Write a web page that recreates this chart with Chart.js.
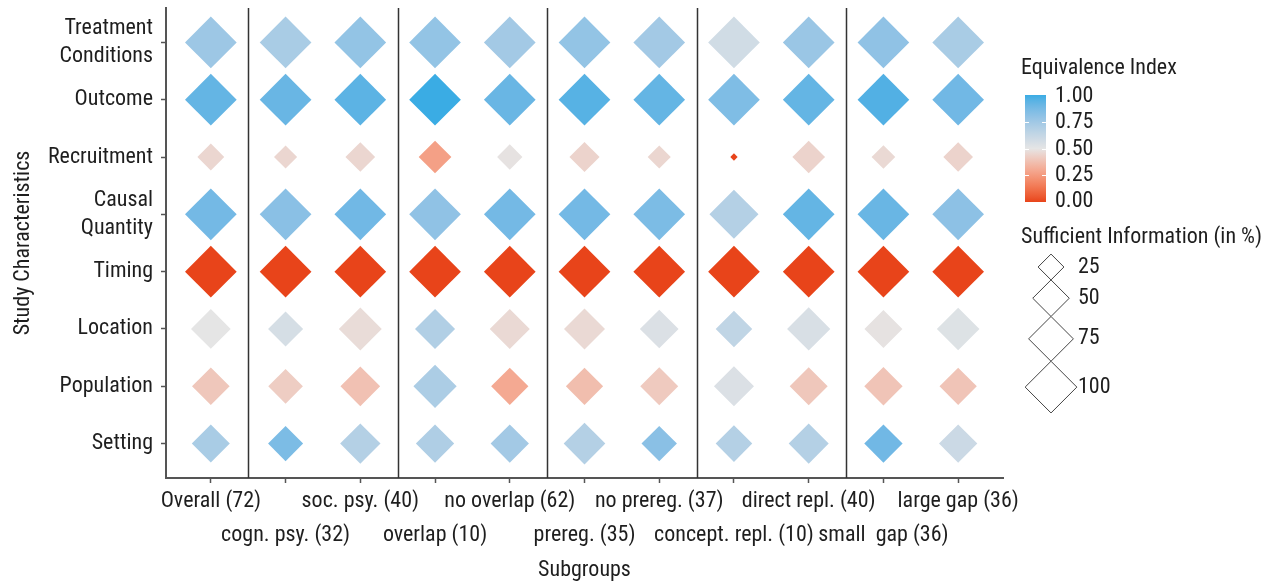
<!DOCTYPE html>
<html>
<head>
<meta charset="utf-8">
<script src="https://cdn.jsdelivr.net/npm/chart.js@4.4.1/dist/chart.umd.min.js"></script>
<style>
  html, body { margin: 0; padding: 0; background: #fff; }
  canvas { display: block; }
</style>
</head>
<body>
<canvas id="chart" width="1278" height="584"></canvas>
<script>
// subgroups along x, study characteristics along y
const subgroups = ['Overall (72)', 'cogn. psy. (32)', 'soc. psy. (40)', 'overlap (10)', 'no overlap (62)',
  'prereg. (35)', 'no prereg. (37)', 'concept. repl. (10)', 'direct repl. (40)', 'small  gap (36)', 'large gap (36)'];
const groupSizes = [1, 2, 2, 2, 2, 2];
const characteristics = [['Treatment', 'Conditions'], 'Outcome', 'Recruitment', ['Causal', 'Quantity'],
  'Timing', 'Location', 'Population', 'Setting'];

// equivalence index (colour), one row per characteristic
const equivalenceIndex = [
  [0.76, 0.72, 0.79, 0.79, 0.74, 0.79, 0.74, 0.58, 0.77, 0.80, 0.72],
  [0.92, 0.91, 0.94, 1.00, 0.91, 0.95, 0.92, 0.85, 0.92, 0.96, 0.89],
  [0.45, 0.45, 0.45, 0.27, 0.49, 0.44, 0.45, 0.00, 0.44, 0.46, 0.44],
  [0.88, 0.82, 0.89, 0.80, 0.88, 0.88, 0.86, 0.68, 0.92, 0.91, 0.81],
  [0.00, 0.00, 0.00, 0.00, 0.00, 0.00, 0.00, 0.00, 0.00, 0.00, 0.00],
  [0.50, 0.56, 0.47, 0.69, 0.46, 0.46, 0.54, 0.64, 0.55, 0.49, 0.53],
  [0.40, 0.42, 0.38, 0.71, 0.30, 0.37, 0.41, 0.54, 0.40, 0.39, 0.39],
  [0.72, 0.86, 0.68, 0.70, 0.74, 0.68, 0.82, 0.68, 0.68, 0.89, 0.60]
];
// sufficient information in % (size)
const sufficientInfo = [
  [100, 100, 100, 100, 100, 100, 100, 100, 100, 100, 100],
  [100, 100, 100, 100, 100, 100, 100, 100, 100, 100, 100],
  [27, 20, 33, 40, 24, 34, 20, 2, 40, 21, 33],
  [100, 100, 100, 100, 100, 100, 100, 90, 100, 100, 100],
  [100, 100, 100, 100, 100, 100, 100, 100, 100, 100, 100],
  [59, 46, 69, 60, 60, 63, 56, 50, 70, 54, 68],
  [53, 45, 59, 70, 52, 52, 54, 60, 54, 55, 52],
  [54, 46, 61, 55, 55, 65, 47, 50, 60, 55, 55]
];
const eiTicks = [1.00, 0.75, 0.50, 0.25, 0.00];
const infoTicks = [25, 50, 75, 100];

// pick a narrow font if one is installed, then size it to the reference label width
function pickFont() {
  const c = document.createElement('canvas').getContext('2d');
  const probe = 'Overall (72) abcdefghijklm';
  const cands = ['Liberation Sans Narrow', 'Roboto Condensed', 'Arial Narrow', 'Nimbus Sans Narrow', 'DejaVu Sans Condensed'];
  c.font = '40px monospace';
  const base = c.measureText(probe).width;
  for (const f of cands) {
    c.font = "40px '" + f + "', monospace";
    if (Math.abs(c.measureText(probe).width - base) > 0.5) return "'" + f + "', sans-serif";
  }
  return 'sans-serif';
}
const FONT = pickFont();
const SIZE = (() => {
  const c = document.createElement('canvas').getContext('2d');
  c.font = '23px ' + FONT;
  return Math.min(23, Math.round(23 * 100 / c.measureText('Overall (72)').width * 2) / 2);
})();
const TEXT = '#1e1e1e';

// colour scale: red -> grey -> blue, interpolated in Lab like ggplot
const LOW = '#E8441A', MID = '#E5E5E5', HIGH = '#3AACE4';
function hex2rgb(h) { return [1, 3, 5].map(i => parseInt(h.slice(i, i + 2), 16)); }
function toLin(c) { c /= 255; return c <= 0.04045 ? c / 12.92 : Math.pow((c + 0.055) / 1.055, 2.4); }
function fromLin(c) { c = c <= 0.0031308 ? 12.92 * c : 1.055 * Math.pow(c, 1 / 2.4) - 0.055; return Math.round(Math.max(0, Math.min(1, c)) * 255); }
function rgb2lab(rgb) {
  const [r, g, b] = rgb.map(toLin);
  let x = (0.4124 * r + 0.3576 * g + 0.1805 * b) / 0.95047;
  let y = (0.2126 * r + 0.7152 * g + 0.0722 * b);
  let z = (0.0193 * r + 0.1192 * g + 0.9505 * b) / 1.08883;
  const f = t => t > 0.008856 ? Math.cbrt(t) : 7.787 * t + 16 / 116;
  x = f(x); y = f(y); z = f(z);
  return [116 * y - 16, 500 * (x - y), 200 * (y - z)];
}
function lab2rgb([L, a, b]) {
  let y = (L + 16) / 116, x = a / 500 + y, z = y - b / 200;
  const g = t => t * t * t > 0.008856 ? t * t * t : (t - 16 / 116) / 7.787;
  x = g(x) * 0.95047; y = g(y); z = g(z) * 1.08883;
  const r = 3.2406 * x - 1.5372 * y - 0.4986 * z;
  const gg = -0.9689 * x + 1.8758 * y + 0.0415 * z;
  const bb = 0.0557 * x - 0.2040 * y + 1.0570 * z;
  return 'rgb(' + fromLin(r) + ',' + fromLin(gg) + ',' + fromLin(bb) + ')';
}
const labLow = rgb2lab(hex2rgb(LOW)), labMid = rgb2lab(hex2rgb(MID)), labHigh = rgb2lab(hex2rgb(HIGH));
function colorAt(v) {
  const [a, b, t] = v < 0.5 ? [labLow, labMid, v / 0.5] : [labMid, labHigh, (v - 0.5) / 0.5];
  return lab2rgb(a.map((c, i) => c + (b[i] - c) * t));
}
// area-proportional diamond: half diagonal
const radiusFor = p => 2.585 * Math.sqrt(p);

const points = [];
characteristics.forEach((c, r) => {
  subgroups.forEach((s, k) => {
    points.push({ x: k, y: r, ei: equivalenceIndex[r][k], info: sufficientInfo[r][k] });
  });
});

const separators = {
  id: 'separators',
  beforeDatasetsDraw(chart) {
    const { ctx, chartArea, scales } = chart;
    ctx.save();
    ctx.strokeStyle = '#333';
    ctx.lineWidth = 1.5;
    let pos = 0;
    groupSizes.slice(0, -1).forEach(n => {
      pos += n;
      const x = Math.round(scales.x.getPixelForValue(pos - 0.5)) + 0.5;
      ctx.beginPath();
      ctx.moveTo(x, chartArea.top);
      ctx.lineTo(x, chartArea.bottom);
      ctx.stroke();
    });
    ctx.restore();
  }
};

const legends = {
  id: 'legends',
  afterDraw(chart) {
    const ctx = chart.ctx;
    ctx.save();
    ctx.font = SIZE + 'px ' + FONT;
    ctx.fillStyle = TEXT;
    ctx.textBaseline = 'middle';
    ctx.textAlign = 'left';
    ctx.fillText('Equivalence Index', 1021, 68);

    // colour bar
    const bx = 1025, bw = 21, top = 95, bot = 202;
    const grad = ctx.createLinearGradient(0, bot, 0, top);
    for (let i = 0; i <= 20; i++) grad.addColorStop(i / 20, colorAt(i / 20));
    ctx.fillStyle = grad;
    ctx.fillRect(bx, top, bw, bot - top);
    ctx.strokeStyle = '#fff';
    ctx.lineWidth = 1;
    eiTicks.forEach(v => {
      const y = Math.round(bot - 1 - v * (bot - top - 2)) + 0.5;
      if (v > 0 && v < 1) {
        ctx.beginPath();
        ctx.moveTo(bx, y); ctx.lineTo(bx + 4, y);
        ctx.moveTo(bx + bw - 4, y); ctx.lineTo(bx + bw, y);
        ctx.stroke();
      }
      ctx.fillStyle = TEXT;
      ctx.fillText(v.toFixed(2), 1055, y);
    });

    ctx.fillText('Sufficient Information (in %)', 1021, 237);
    let y = 267 - radiusFor(infoTicks[0]);
    ctx.strokeStyle = '#444';
    infoTicks.forEach(p => {
      const r = radiusFor(p);
      y += r;
      ctx.beginPath();
      ctx.moveTo(1051 - r, y); ctx.lineTo(1051, y - r);
      ctx.lineTo(1051 + r, y); ctx.lineTo(1051, y + r);
      ctx.closePath();
      ctx.fillStyle = '#fff';
      ctx.fill();
      ctx.stroke();
      ctx.fillStyle = TEXT;
      ctx.fillText(String(p), 1078, y);
      y += r;
    });
    ctx.restore();
  }
};

new Chart(document.getElementById('chart'), {
  type: 'scatter',
  data: {
    datasets: [{
      data: points,
      pointStyle: 'rectRot',
      pointRadius: c => radiusFor(c.raw.info),
      pointHoverRadius: c => radiusFor(c.raw.info),
      pointBackgroundColor: c => colorAt(c.raw.ei),
      pointBorderWidth: 0,
      pointHoverBorderWidth: 0
    }]
  },
  options: {
    responsive: false,
    animation: false,
    devicePixelRatio: 1,
    layout: { autoPadding: false, padding: { top: 8, right: 275, left: 0, bottom: 0 } },
    plugins: { legend: { display: false }, tooltip: { enabled: false } },
    scales: {
      x: {
        type: 'linear', min: -0.6, max: 10.6,
        afterBuildTicks: s => { s.ticks = subgroups.map((_, i) => ({ value: i })); },
        afterFit: s => { s.height = 106; s.paddingLeft = 0; s.paddingRight = 0; },
        ticks: {
          autoSkip: false, maxRotation: 0, padding: 1, color: TEXT,
          font: { family: FONT, size: SIZE, lineHeight: '34px' },
          callback: v => (v % 2 ? ['', subgroups[v]] : subgroups[v])
        },
        grid: { drawOnChartArea: false, tickLength: 5, tickColor: '#555', tickWidth: 1.5 },
        border: { color: '#555', width: 2 },
        title: { display: true, text: 'Subgroups', color: TEXT, font: { family: FONT, size: SIZE }, padding: 0 }
      },
      y: {
        type: 'linear', min: -0.6, max: 7.6, reverse: true,
        afterBuildTicks: s => { s.ticks = characteristics.map((_, i) => ({ value: i })); },
        afterFit: s => { s.width = 166; s.paddingTop = 0; s.paddingBottom = 0; },
        ticks: {
          autoSkip: false, padding: 8, color: TEXT,
          font: { family: FONT, size: SIZE, lineHeight: '28px' },
          callback: v => characteristics[v]
        },
        grid: { drawOnChartArea: false, tickLength: 5, tickColor: '#555', tickWidth: 1.5 },
        border: { color: '#555', width: 2 },
        title: { display: true, text: 'Study Characteristics', color: TEXT, font: { family: FONT, size: SIZE }, padding: 10 }
      }
    }
  },
  plugins: [separators, legends]
});
</script>
</body>
</html>
